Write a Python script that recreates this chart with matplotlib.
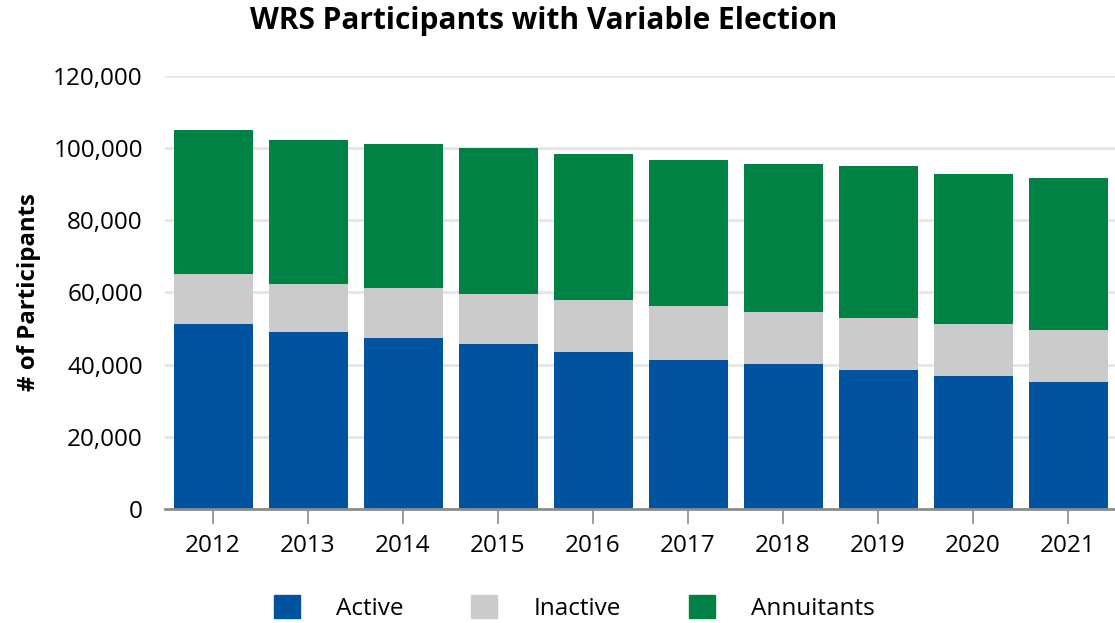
import matplotlib
matplotlib.use('Agg')
import matplotlib.pyplot as plt
import numpy as np
from matplotlib.ticker import FuncFormatter
from matplotlib.patches import Patch

plt.rcParams['font.family'] = ['Open Sans', 'DejaVu Sans']

# data
years = ['2012', '2013', '2014', '2015', '2016', '2017', '2018', '2019', '2020', '2021']
active = [51200, 49000, 47300, 45700, 43500, 41200, 40100, 38450, 36800, 35100]
inactive = [13900, 13350, 13900, 13880, 14400, 15050, 14500, 14450, 14450, 14500]
annuitants = [39800, 39800, 39850, 40370, 40400, 40350, 40900, 42050, 41500, 42050]

c_active = '#00539F'
c_inactive = '#CBCBCB'
c_annuit = '#008244'

fig = plt.figure(figsize=(11.15, 6.23), dpi=100)
ax = fig.add_axes([0.148, 0.183, 0.852, 0.695])

x = np.arange(len(years))
w = 0.83
act = np.array(active)
ina = np.array(inactive)
ann = np.array(annuitants)

ax.bar(x + 0.01, act, w, color=c_active, zorder=3)
ax.bar(x + 0.01, ina, w, bottom=act, color=c_inactive, zorder=3)
ax.bar(x + 0.01, ann, w, bottom=act + ina, color=c_annuit, zorder=3)

ax.set_xlim(-0.5, len(years) - 0.5)
ax.set_ylim(0, 120000)
ax.set_yticks(range(0, 120001, 20000))
ax.yaxis.set_major_formatter(FuncFormatter(lambda v, p: f'{int(v):,}'))
ax.set_xticks(x)
ax.set_xticklabels(years)

ax.grid(axis='y', color='#E6E6E6', linewidth=2, zorder=0)
for s in ['top', 'right', 'left']:
    ax.spines[s].set_visible(False)
ax.spines['bottom'].set_color('#8C8C8C')
ax.spines['bottom'].set_linewidth(2)
ax.spines['bottom'].set_zorder(4)

ax.tick_params(axis='y', length=0, labelsize=17.5, pad=16)
ax.tick_params(axis='x', length=11, width=1.2, color='#8C8C8C', labelsize=17.5, pad=7)

ax.set_ylabel('# of Participants', fontsize=17.3, fontweight='bold')
ax.yaxis.set_label_coords(-0.131, 0.5)

fig.suptitle('WRS Participants with Variable Election', fontsize=21.5, fontweight='bold',
             x=0.488, y=0.99)

handles = [Patch(color=c_active, label='Active'),
           Patch(color=c_inactive, label='Inactive'),
           Patch(color=c_annuit, label='Annuitants')]
fig.legend(handles=handles, loc='center', bbox_to_anchor=(0.515, 0.024), ncol=3,
           frameon=False, fontsize=17.5, handlelength=1.07, handleheight=1.07,
           handletextpad=1.48, columnspacing=2.8)

fig.savefig('out.png', dpi=100)
